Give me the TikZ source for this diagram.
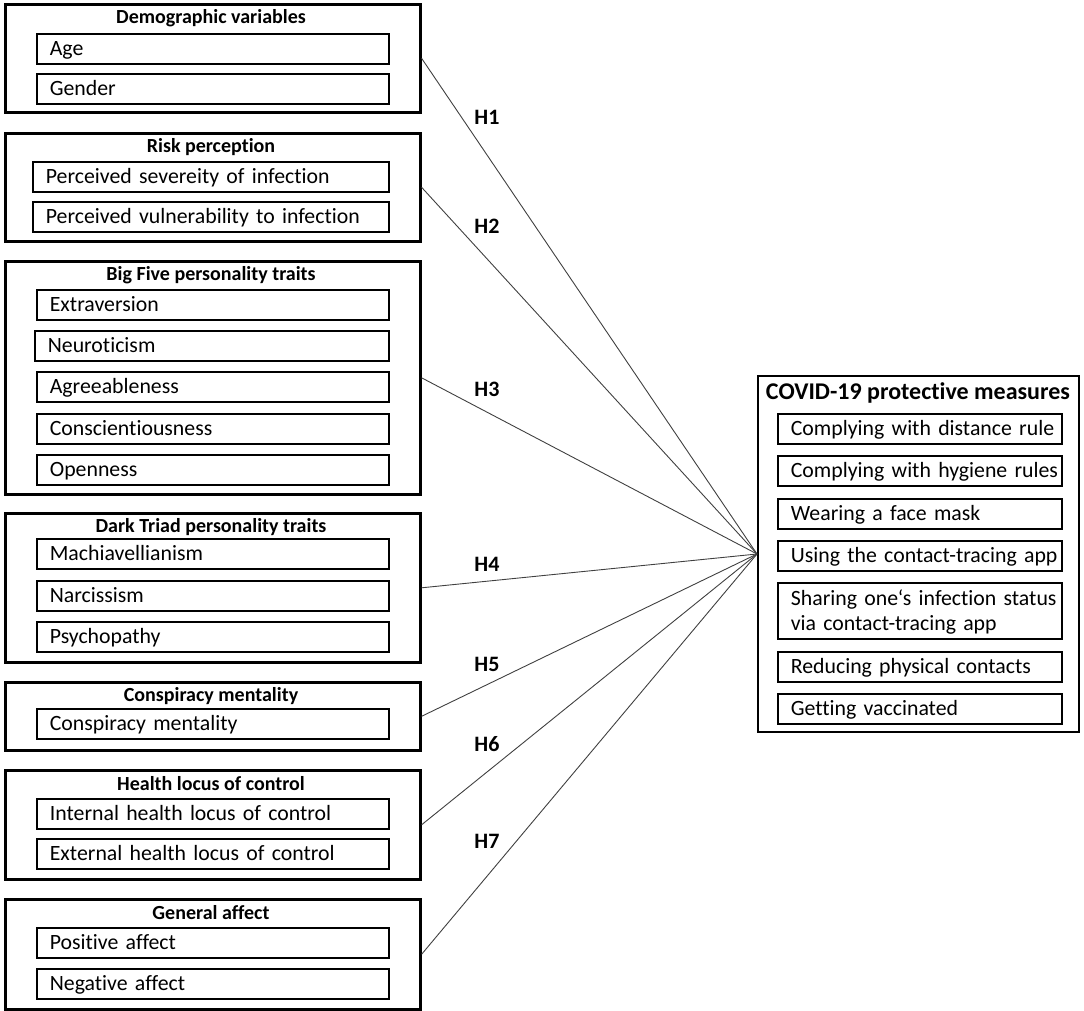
\documentclass[tikz,border=0pt]{standalone}
\usepackage{fontspec}
\setmainfont{Carlito}[Ligatures=NoCommon]
\tikzset{
  ob/.style={draw, line width=2.6pt, anchor=north west, minimum width=415pt, inner sep=0pt},
  rob/.style={draw, line width=2pt, anchor=north west, minimum width=321pt, minimum height=356pt, inner sep=0pt},
  ib/.style={draw, line width=1.7pt, anchor=north west, inner xsep=13pt, inner ysep=0pt,
    minimum height=30pt, text width=326pt, text height=17pt, text depth=3pt,
    align=left, font=\fontsize{21.8}{25}\selectfont},
  rib/.style={ib, text width=258pt},
  ttl/.style={font=\bfseries\fontsize{20}{24}\selectfont, inner sep=0pt},
  rttl/.style={font=\bfseries\fontsize{24}{28}\selectfont, inner sep=0pt},
  hl/.style={font=\bfseries\fontsize{22}{26}\selectfont, inner sep=0pt},
  conn/.style={line width=0.9pt, draw=black!75},
}
\begin{document}
\begin{tikzpicture}[x=1pt, y=-1pt]
\useasboundingbox (0,0) rectangle (1084,1011);
% left outer boxes
\node[ob, minimum height=108pt] (dem) at (4,3) {};
\node[ob, minimum height=108pt] (risk) at (4,132) {};
\node[ob, minimum height=233pt] (big) at (4,260) {};
\node[ob, minimum height=149pt] (dark) at (4,512) {};
\node[ob, minimum height=68pt] (consp) at (4,681) {};
\node[ob, minimum height=109pt] (health) at (4,769) {};
\node[ob, minimum height=110pt] (gen) at (4,898) {};
% titles
\node[ttl] (demt) at (211,18) {Demographic variables};
\node[ttl] (riskt) at (211,147) {Risk perception};
\node[ttl] (bigt) at (211,275) {Big Five personality traits};
\node[ttl] (darkt) at (211,527) {Dark Triad personality traits};
\node[ttl] (conspt) at (211,696) {Conspiracy mentality};
\node[ttl] (healtht) at (211,784) {Health locus of control};
\node[ttl] (gent) at (211,913) {General affect};
% inner boxes
\node[ib] (age) at (36,33) {Age};
\node[ib] (gender) at (36,73) {Gender};
\node[ib, text width=330pt] (sev) at (32,161) {\mbox{Perceived severeity of infection}};
\node[ib, text width=330pt] (vul) at (32,201) {\mbox{Perceived vulnerability to infection}};
\node[ib] (ext) at (36,289) {Extraversion};
\node[ib, text width=328pt] (neu) at (34,330) {Neuroticism};
\node[ib] (agr) at (36,371) {Agreeableness};
\node[ib] (con) at (36,413) {Conscientiousness};
\node[ib] (ope) at (36,454) {Openness};
\node[ib] (mach) at (36,538) {Machiavellianism};
\node[ib] (narc) at (36,580) {Narcissism};
\node[ib] (psy) at (36,621) {Psychopathy};
\node[ib] (cm) at (36,708) {Conspiracy mentality};
\node[ib] (ihl) at (36,798) {\mbox{Internal health locus of control}};
\node[ib] (ehl) at (36,838) {\mbox{External health locus of control}};
\node[ib] (pa) at (36,927) {Positive affect};
\node[ib] (na) at (36,968) {Negative affect};
% right box
\node[rob] (cov) at (757,375) {};
\node[rttl] (covt) at (918,393) {COVID-19 protective measures};
\node[rib] (m1) at (777,413) {\mbox{Complying with distance rule}};
\node[rib] (m2) at (777,455) {\mbox{Complying with hygiene rules}};
\node[rib] (m3) at (777,498) {\mbox{Wearing a face mask}};
\node[rib] (m4) at (777,540) {\mbox{Using the contact-tracing app}};
\node[rib, minimum height=56pt, text depth=28pt] (m5) at (777,582) {\mbox{Sharing one‘s infection status}\\\mbox{via contact-tracing app}};
\node[rib] (m6) at (777,651) {\mbox{Reducing physical contacts}};
\node[rib] (m7) at (777,693) {\mbox{Getting vaccinated}};
% connectors
\draw[conn] (dem.east) -- (cov.west);
\draw[conn] (risk.east) -- (cov.west);
\draw[conn] (big.east) -- (cov.west);
\draw[conn] (dark.east) -- (cov.west);
\draw[conn] (consp.east) -- (cov.west);
\draw[conn] (health.east) -- (cov.west);
\draw[conn] (gen.east) -- (cov.west);
% hypothesis labels
\node[hl] (h1) at (487,117) {H1};
\node[hl] (h2) at (487,226) {H2};
\node[hl] (h3) at (487,389) {H3};
\node[hl] (h4) at (487,564) {H4};
\node[hl] (h5) at (487,664) {H5};
\node[hl] (h6) at (487,744) {H6};
\node[hl] (h7) at (487,841) {H7};
\end{tikzpicture}
\end{document}
